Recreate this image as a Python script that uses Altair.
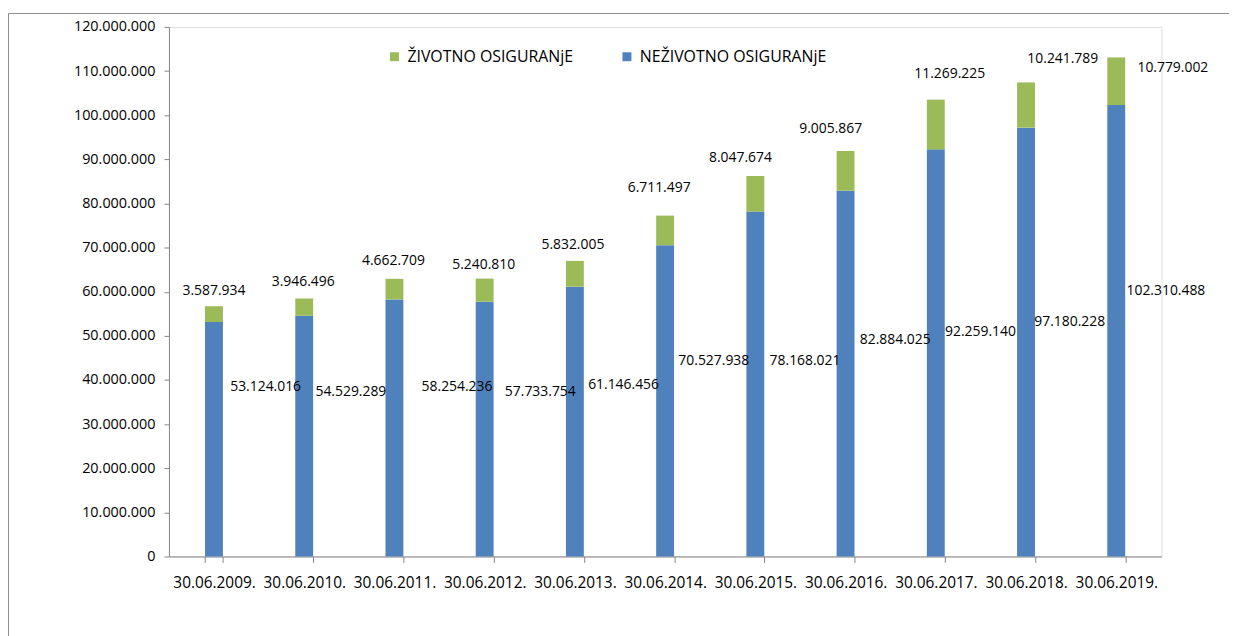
import altair as alt
import pandas as pd

# ---- data ----
dates = ["30.06.2009.", "30.06.2010.", "30.06.2011.", "30.06.2012.", "30.06.2013.",
         "30.06.2014.", "30.06.2015.", "30.06.2016.", "30.06.2017.", "30.06.2018.",
         "30.06.2019."]
nonlife = [53124016, 54529289, 58254236, 57733754, 61146456, 70527938,
           78168021, 82884025, 92259140, 97180228, 102310488]
life = [3587934, 3946496, 4662709, 5240810, 5832005, 6711497,
        8047674, 9005867, 11269225, 10241789, 10779002]
series_names = ["ŽIVOTNO OSIGURANjE", "NEŽIVOTNO OSIGURANjE"]
colors = ["#9BBB59", "#4F81BD"]

# ---- label layout (as placed in the reference) ----
nonlife_label_at = [38.3e6, 37.2e6, 38.3e6, 37.2e6, 38.8e6, 44.2e6,
                    44.2e6, 49.1e6, 50.9e6, 53.1e6, 60.1e6]
nonlife_label_dx = [52, 47, 63, 56, 49, 49, 50, 50, 45, 44, 50]
life_label_at = [60.1e6, 62.2e6, 66.9e6, 66.0e6, 70.5e6, 83.6e6,
                 90.4e6, 96.9e6, 109.3e6, 112.7e6, 110.7e6]
life_label_dx = [0, -1, -1, -1, -2, -6, -15, -15, 14, 37, 57]

FONT = "Open Sans"
GRAY = "#868686"
W, H = 999, 533
HALF_BAR = 9


def fmt(v):
    return f"{v:,}".replace(",", ".")


bar_rows = []
for i, d in enumerate(dates):
    bar_rows.append(dict(date=d, series=series_names[1], value=nonlife[i], ord=0))
    bar_rows.append(dict(date=d, series=series_names[0], value=life[i], ord=1))
bar_df = pd.DataFrame(bar_rows)

label_rows = []
for i, d in enumerate(dates):
    label_rows.append(dict(date=d, text=fmt(nonlife[i]), at=nonlife_label_at[i], dx=nonlife_label_dx[i]))
    label_rows.append(dict(date=d, text=fmt(life[i]), at=life_label_at[i], dx=life_label_dx[i]))
label_df = pd.DataFrame(label_rows)

x_scale = alt.Scale(paddingInner=0.8, paddingOuter=0.4)
y_scale = alt.Scale(domain=[0, 120_000_000], nice=False)

bars = alt.Chart(bar_df).mark_bar().encode(
    x=alt.X("date:N", sort=dates, scale=x_scale,
            axis=alt.Axis(title=None, labelAngle=0, labelFontSize=15.5, labelFont=FONT,
                          labelColor="#000", labelPadding=13, tickBand="extent",
                          tickSize=6, tickColor=GRAY, domainColor=GRAY)),
    y=alt.Y("value:Q", stack="zero", scale=y_scale,
            axis=alt.Axis(title=None, values=list(range(0, 120_000_001, 10_000_000)),
                          format=",d", grid=False, tickSize=5, tickColor=GRAY,
                          domainColor=GRAY, labelFontSize=14.5, labelFont=FONT,
                          labelColor="#000", labelPadding=9)),
    color=alt.Color("series:N", scale=alt.Scale(domain=series_names, range=colors),
                    legend=alt.Legend(title=None, orient="none", legendX=219, legendY=22,
                                      direction="horizontal", symbolType="square",
                                      symbolSize=81, symbolStrokeWidth=0,
                                      labelFontSize=16, labelFont=FONT, labelColor="#000",
                                      columnPadding=45, labelOffset=5, padding=0,
                                      labelLimit=400)),
    order=alt.Order("ord:Q"),
)

labels = alt.Chart(label_df).mark_text(fontSize=14, font=FONT, color="#000").encode(
    x=alt.X("date:N", sort=dates),
    xOffset=alt.XOffset("dx:Q", scale=alt.Scale(domain=[-300, 300],
                                                range=[-300 + HALF_BAR, 300 + HALF_BAR])),
    y=alt.Y("at:Q"),
    text="text:N",
)

frame_df = pd.DataFrame({"k": [0]})
frame_left = alt.Chart(frame_df).mark_rule(color="#8c8c8c", strokeWidth=1).encode(
    x=alt.value(-161.5), y=alt.value(-13.5), y2=alt.value(H + 120))
frame_top = alt.Chart(frame_df).mark_rule(color="#8c8c8c", strokeWidth=1).encode(
    x=alt.value(-161.5), x2=alt.value(W + 80), y=alt.value(-13.5))

chart = alt.layer(bars, labels, frame_left, frame_top).properties(
    width=W, height=H,
    autosize=alt.AutoSizeParams(type="none"),
    padding={"left": 162, "top": 17, "right": 68, "bottom": 78},
).configure_view(stroke=None).configure(
    locale={"number": {"decimal": ",", "thousands": ".", "grouping": [3],
                       "currency": ["", ""]}}
)

chart.save("out.html", embed_options={"renderer": "svg", "actions": False})
